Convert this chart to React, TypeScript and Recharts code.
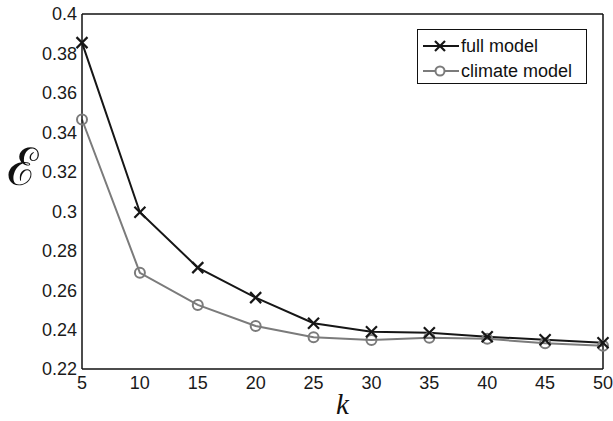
import React from 'react';
import { LineChart, Line, XAxis, YAxis, Legend } from 'recharts';

const kValues = [5, 10, 15, 20, 25, 30, 35, 40, 45, 50];
const fullModel = [0.3855, 0.2995, 0.2714, 0.2562, 0.2432, 0.2389, 0.2384, 0.2364, 0.2348, 0.2333];
const climateModel = [0.3465, 0.2688, 0.2525, 0.2418, 0.2361, 0.2347, 0.2359, 0.2353, 0.233, 0.2318];
const xTicks = [5, 10, 15, 20, 25, 30, 35, 40, 45, 50];
const yTicks = [0.22, 0.24, 0.26, 0.28, 0.3, 0.32, 0.34, 0.36, 0.38, 0.4];
const seriesNames = ['full model', 'climate model'];

const data = kValues.map((k, i) => ({ k, full: fullModel[i], climate: climateModel[i] }));

const BLACK = '#161616';
const GRAY = '#7b7b7b';
const FONT = '"Liberation Sans", Arial, Helvetica, sans-serif';
const X_DOMAIN: [number, number] = [5, 50];
const Y_DOMAIN: [number, number] = [0.22, 0.4];

const CrossDot = (props: any) => {
  const { cx, cy } = props;
  if (cx == null || cy == null) return null;
  const s = 5.5;
  return (
    <g>
      <line x1={cx - s} y1={cy - s} x2={cx + s} y2={cy + s} stroke={BLACK} strokeWidth={2.2} />
      <line x1={cx - s} y1={cy + s} x2={cx + s} y2={cy - s} stroke={BLACK} strokeWidth={2.2} />
    </g>
  );
};

const CircleDot = (props: any) => {
  const { cx, cy } = props;
  if (cx == null || cy == null) return null;
  return <circle cx={cx} cy={cy} r={5} fill="none" stroke={GRAY} strokeWidth={2} />;
};

const LegendBox = () => (
  <div
    style={{
      border: '1.5px solid #111',
      background: '#fff',
      width: 170,
      height: 55,
      boxSizing: 'border-box',
      fontFamily: FONT,
      fontSize: 18,
      color: '#111',
      paddingTop: 3,
    }}
  >
    {[0, 1].map((i) => (
      <div key={i} style={{ display: 'flex', alignItems: 'center', height: 25, paddingLeft: 4 }}>
        <svg width={38} height={20} style={{ marginRight: 1 }}>
          <line x1={1} y1={10} x2={37} y2={10} stroke={i === 0 ? BLACK : GRAY} strokeWidth={2} />
          {i === 0 ? (
            <g>
              <line x1={13} y1={5} x2={23} y2={15} stroke={BLACK} strokeWidth={2.2} />
              <line x1={13} y1={15} x2={23} y2={5} stroke={BLACK} strokeWidth={2.2} />
            </g>
          ) : (
            <circle cx={18} cy={10} r={4.5} fill="#fff" stroke={GRAY} strokeWidth={2} />
          )}
        </svg>
        <span style={{ lineHeight: '20px' }}>{seriesNames[i]}</span>
      </div>
    ))}
  </div>
);

const fmtY = (v: number) => String(Number(v.toFixed(2)));

const YLabel = (props: any) => {
  const vb = props.viewBox || {};
  return (
    <text
      x={vb.x + 7}
      y={vb.y + vb.height / 2 - 20}
      fontFamily='"DejaVu Serif", "Liberation Serif", serif'
      fontSize={52}
      fill="#111"
      textAnchor="start"
      dominantBaseline="middle"
    >
      ℰ
    </text>
  );
};

const XLabel = (props: any) => {
  const vb = props.viewBox || {};
  return (
    <text
      x={vb.x + vb.width / 2}
      y={vb.y + 45}
      fontFamily='"Liberation Serif", "DejaVu Serif", serif'
      fontStyle="italic"
      fontSize={29}
      fill="#111"
      textAnchor="middle"
    >
      k
    </text>
  );
};

export default function App() {
  const tickStyle = { fontFamily: FONT, fontSize: 18, fill: '#1a1a1a' };
  const frame = { stroke: '#111', strokeWidth: 1.5 };
  return (
    <div style={{ position: 'absolute', left: 0, top: 0, background: '#fff' }}>
      <LineChart width={613} height={421} data={data} margin={{ top: 14, right: 10, bottom: 22, left: 0 }}>
        {/* frame with inward tick marks */}
        <XAxis
          xAxisId="bottomTicks"
          dataKey="k"
          type="number"
          domain={X_DOMAIN}
          ticks={xTicks}
          orientation="bottom"
          mirror
          height={1}
          tickSize={5}
          tick={false}
          axisLine={frame}
          tickLine={frame}
          interval={0}
        />
        <XAxis
          xAxisId="top"
          dataKey="k"
          type="number"
          domain={X_DOMAIN}
          ticks={xTicks}
          orientation="top"
          mirror
          height={1}
          tickSize={5}
          tick={false}
          axisLine={frame}
          tickLine={frame}
          interval={0}
        />
        <YAxis
          yAxisId="leftTicks"
          type="number"
          domain={Y_DOMAIN}
          ticks={yTicks}
          orientation="left"
          mirror
          width={1}
          tickSize={5}
          tick={false}
          axisLine={frame}
          tickLine={frame}
          interval={0}
        />
        <YAxis
          yAxisId="right"
          type="number"
          domain={Y_DOMAIN}
          ticks={yTicks}
          orientation="right"
          mirror
          width={1}
          tickSize={5}
          tick={false}
          axisLine={frame}
          tickLine={frame}
          interval={0}
        />
        {/* labelled axes */}
        <XAxis
          xAxisId="bottom"
          dataKey="k"
          type="number"
          domain={X_DOMAIN}
          ticks={xTicks}
          orientation="bottom"
          height={30}
          tickSize={0}
          tickMargin={7}
          tick={tickStyle}
          axisLine={false}
          tickLine={false}
          interval={0}
          label={<XLabel />}
        />
        <YAxis
          yAxisId="left"
          type="number"
          domain={Y_DOMAIN}
          ticks={yTicks}
          orientation="left"
          width={82}
          tickSize={0}
          tickMargin={5}
          tick={tickStyle}
          tickFormatter={fmtY}
          axisLine={false}
          tickLine={false}
          interval={0}
          label={<YLabel />}
        />
        <Legend
          layout="vertical"
          align="center"
          verticalAlign="middle"
          content={<LegendBox />}
          wrapperStyle={{ left: 417, top: 29, width: 170, height: 55 }}
        />
        <Line
          xAxisId="bottom"
          yAxisId="left"
          dataKey="climate"
          stroke={GRAY}
          strokeWidth={2}
          dot={<CircleDot />}
          isAnimationActive={false}
        />
        <Line
          xAxisId="bottom"
          yAxisId="left"
          dataKey="full"
          stroke={BLACK}
          strokeWidth={2}
          dot={<CrossDot />}
          isAnimationActive={false}
        />
      </LineChart>
    </div>
  );
}
